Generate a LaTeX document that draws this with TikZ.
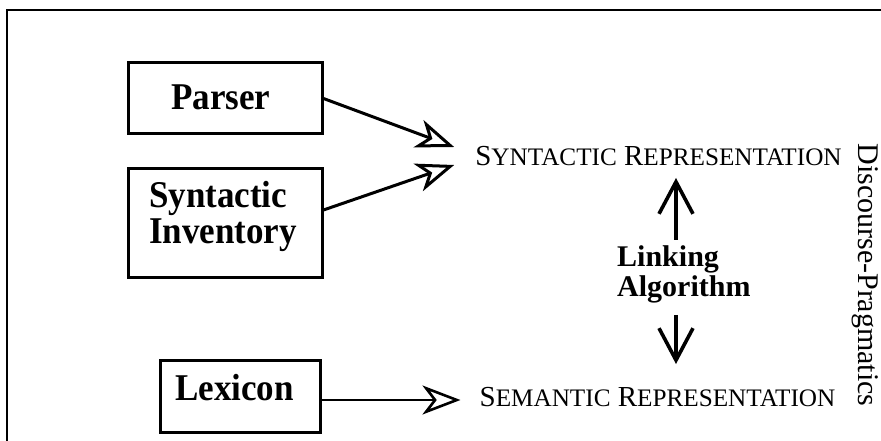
\documentclass[tikz,border=0pt]{standalone}
\usepackage{fontspec}
\setmainfont{Liberation Serif}
\usetikzlibrary{arrows.meta,calc}
% small caps built from two sizes of capitals
\newcommand\fakesc[2]{{\fontsize{29}{30}\selectfont #1}{\fontsize{25.2}{26}\selectfont #2}}
% slightly taller lettering for the box labels
\newcommand\tallbox[1]{\scalebox{1}[1.08]{#1}}
\begin{document}
\begin{tikzpicture}[x=1pt,y=-1pt,
  boxshape/.style={draw,line width=3pt,inner sep=0pt},
  boxtext/.style={font=\fontsize{35}{36}\selectfont\bfseries,inner sep=0pt,anchor=base west},
  repr/.style={inner sep=0pt,anchor=base},
  feed/.style={line width=3pt,-{Stealth[open,length=38pt,width=29pt,inset=11pt]}},
  link/.style={line width=3.2pt,-{Straight Barb[length=32pt,width=34pt,line width=3.6pt]}}]
\useasboundingbox (0,0) rectangle (881,441);
% outer frame (only top and left edges lie inside)
\draw[line width=1.5pt] (7,441) -- (7,10) -- (881,10);

% input boxes
\node[boxshape,minimum width=194pt,minimum height=71pt] (parser) at (225,98.5) {};
\node[boxtext] (parsertxt) at (171,110) {\tallbox{Parser}};
\node[boxshape,minimum width=194pt,minimum height=108pt] (inventory) at (225,223) {};
\node[boxtext] (invtxt1) at (149,207) {\tallbox{Syntactic}};
\node[boxtext] (invtxt2) at (149,243) {\tallbox{Inventory}};
\node[boxshape,minimum width=160pt,minimum height=72pt] (lexicon) at (240,396) {};
\node[boxtext] (lextxt) at (175,400) {\tallbox{Lexicon}};

% representations
\node[repr] (synrep) at (658.5,165) {\fakesc{S}{YNTACTIC}\fakesc{\ R}{EPRESENTATION}};
\node[repr] (semrep) at (657.5,406) {\fakesc{S}{EMANTIC}\fakesc{\ R}{EPRESENTATION}};

% linking algorithm (base anchor sits on the last line)
\node[inner sep=0pt,anchor=base west,align=left,font=\fontsize{30}{30}\selectfont\bfseries] (linkalg) at (617,296) {Linking\\Algorithm};
\coordinate (axis) at (676,0);

% side label
\node[inner sep=0pt,anchor=base,rotate=-90,font=\fontsize{30}{32}\selectfont] (dp) at (858,275) {Discourse-Pragmatics};

% connectors
\draw[feed] (parser.east) -- ($(synrep.base west)+(-21,-18)$);
\draw[feed] (inventory.east) ++(0,-13) -- ($(synrep.base west)+(-21,0)$);
\draw[feed,line width=2.6pt] (lexicon.east) ++(0,4) -- ($(semrep.base west)+(-19,-6)$);
\draw[link] ($(axis |- linkalg.north)+(0,-5)$) -- ($(axis |- synrep.base)+(0,13)$);
\draw[link] ($(axis |- linkalg.south)+(0,12)$) -- ($(axis |- semrep.base)+(0,-42)$);
\end{tikzpicture}
\end{document}
